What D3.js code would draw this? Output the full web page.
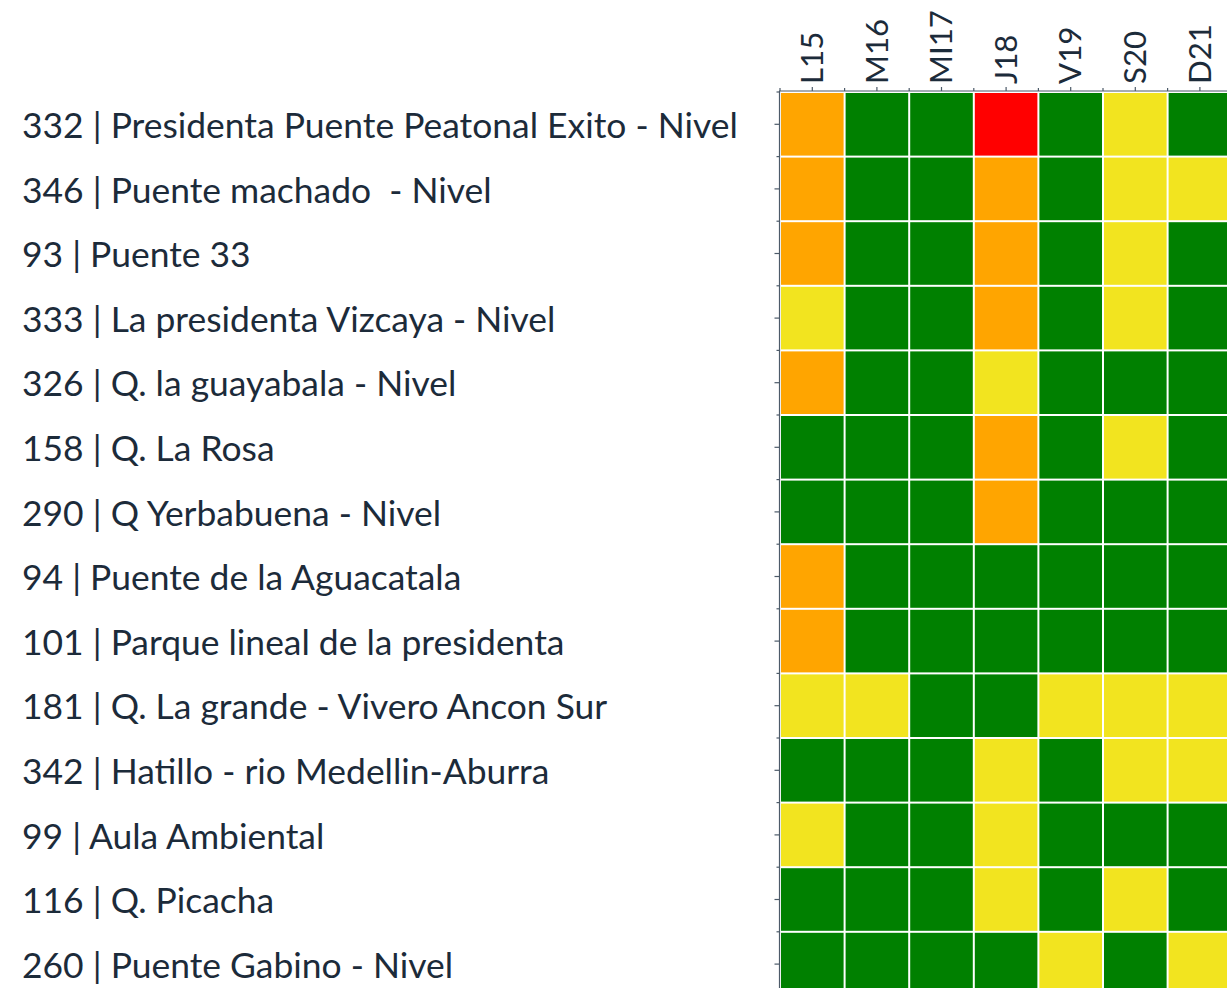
<!DOCTYPE html>
<html>
<head>
<meta charset="utf-8">
<script src="https://cdn.jsdelivr.net/npm/d3@7"></script>
<style>
  html, body { margin: 0; padding: 0; background: #fff; overflow: hidden; }
  svg { display: block; }
</style>
</head>
<body>
<svg id="chart" width="1227" height="988"></svg>
<script>
const days = ["L15", "M16", "MI17", "J18", "V19", "S20", "D21"];
const stations = [
  "332 | Presidenta Puente Peatonal Exito - Nivel",
  "346 | Puente machado  - Nivel",
  "93 | Puente 33",
  "333 | La presidenta Vizcaya - Nivel",
  "326 | Q. la guayabala - Nivel",
  "158 | Q. La Rosa",
  "290 | Q Yerbabuena - Nivel",
  "94 | Puente de la Aguacatala",
  "101 | Parque lineal de la presidenta",
  "181 | Q. La grande - Vivero Ancon Sur",
  "342 | Hatillo - rio Medellin-Aburra",
  "99 | Aula Ambiental",
  "116 | Q. Picacha",
  "260 | Puente Gabino - Nivel"
];
// alert level: 0 = green, 1 = yellow, 2 = orange, 3 = red
const levels = [
  [2, 0, 0, 3, 0, 1, 0],
  [2, 0, 0, 2, 0, 1, 1],
  [2, 0, 0, 2, 0, 1, 0],
  [1, 0, 0, 2, 0, 1, 0],
  [2, 0, 0, 1, 0, 0, 0],
  [0, 0, 0, 2, 0, 1, 0],
  [0, 0, 0, 2, 0, 0, 0],
  [2, 0, 0, 0, 0, 0, 0],
  [2, 0, 0, 0, 0, 0, 0],
  [1, 1, 0, 0, 1, 1, 1],
  [0, 0, 0, 1, 0, 1, 1],
  [1, 0, 0, 1, 0, 0, 0],
  [0, 0, 0, 1, 0, 1, 0],
  [0, 0, 0, 0, 1, 0, 1]
];
const levelColors = ["#008000", "#F2E41F", "#FFA500", "#FF0000"];

const svg = d3.select("#chart");
const cell = 64.6;
const x0 = 780, y0 = 92;
const x = d3.scaleBand().domain(days).range([x0, x0 + days.length * cell]);
const y = d3.scaleBand().domain(stations).range([y0, y0 + stations.length * cell]);
const color = d3.scaleOrdinal().domain([0, 1, 2, 3]).range(levelColors);

const cells = [];
stations.forEach((s, i) => days.forEach((d, j) => cells.push({s, d, v: levels[i][j]})));

svg.append("g").selectAll("rect").data(cells).join("rect")
  .attr("x", d => x(d.d) + 1)
  .attr("y", d => y(d.s) + 1)
  .attr("width", x.bandwidth() - 2)
  .attr("height", y.bandwidth() - 2)
  .attr("fill", d => color(d.v));

const axisColor = "#4d5b69";
const textColor = "#1c2b3a";
const font = "Lato, 'Open Sans', sans-serif";

// left axis
const gl = svg.append("g").attr("transform", `translate(${x0 - 0.5},0)`);
gl.append("line").attr("x1", 0).attr("x2", 0).attr("y1", y0 - 1).attr("y2", 988)
  .attr("stroke", axisColor).attr("stroke-width", 1.2);
gl.selectAll("line.major").data(stations).join("line").attr("class", "major")
  .attr("x1", -5).attr("x2", 0)
  .attr("y1", d => y(d) + y.bandwidth() / 2).attr("y2", d => y(d) + y.bandwidth() / 2)
  .attr("stroke", axisColor).attr("stroke-width", 1.2);
gl.selectAll("line.minor").data(stations).join("line").attr("class", "minor")
  .attr("x1", -3).attr("x2", 0)
  .attr("y1", d => y(d)).attr("y2", d => y(d))
  .attr("stroke", axisColor).attr("stroke-width", 1.2);

// top axis
const gt = svg.append("g").attr("transform", `translate(0,${y0 - 1})`);
gt.append("line").attr("x1", x0 - 1).attr("x2", 1227).attr("y1", 0).attr("y2", 0)
  .attr("stroke", axisColor).attr("stroke-width", 1.2);
gt.selectAll("line.major").data(days).join("line").attr("class", "major")
  .attr("y1", -4).attr("y2", 0)
  .attr("x1", d => x(d) + x.bandwidth() / 2).attr("x2", d => x(d) + x.bandwidth() / 2)
  .attr("stroke", axisColor).attr("stroke-width", 1.2);
gt.selectAll("line.minor").data(days).join("line").attr("class", "minor")
  .attr("y1", -3).attr("y2", 0)
  .attr("x1", d => x(d)).attr("x2", d => x(d))
  .attr("stroke", axisColor).attr("stroke-width", 1.2);

// column labels
const colLabels = svg.append("g").selectAll("text").data(days).join("text")
  .attr("text-anchor", "start")
  .attr("font-family", font).attr("font-size", 28)
  .attr("fill", textColor)
  .text(d => d);
// fit so "MI17" is ~74px long as in the reference
const miNode = colLabels.filter(d => d === "MI17").node();
const colSize = 28 * 74 / miNode.getComputedTextLength();
colLabels.attr("font-size", colSize)
  .attr("transform", d => `translate(${x(d) + x.bandwidth() / 2 + colSize * 0.34},${y0 - 8}) rotate(-90)`);

// row labels
const rowLabels = svg.append("g").selectAll("text").data(stations).join("text")
  .attr("x", 22)
  .attr("font-family", font).attr("font-size", 30)
  .attr("fill", textColor)
  .style("white-space", "pre")
  .text(d => d);
const firstLen = rowLabels.nodes()[0].getComputedTextLength();
const rowSize = 30 * 716 / firstLen;
rowLabels.attr("font-size", rowSize)
  .attr("y", d => y(d) + y.bandwidth() / 2 + rowSize * 0.385);
</script>
</body>
</html>
